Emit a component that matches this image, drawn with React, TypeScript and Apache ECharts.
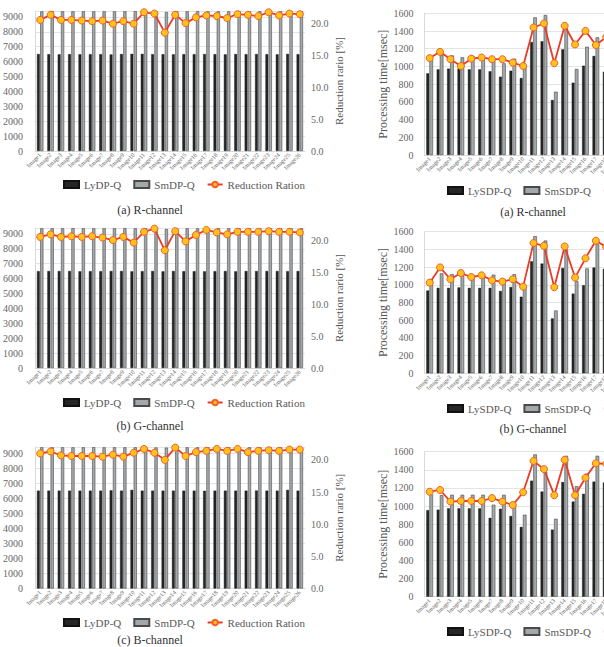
import React, { useEffect, useRef } from "react";
import * as echarts from "echarts";

const images = [
  "Image1", "Image2", "Image3", "Image4", "Image5", "Image6", "Image7", "Image8", "Image9", "Image10",
  "Image11", "Image12", "Image13", "Image14", "Image15", "Image16", "Image17", "Image18", "Image19", "Image20",
  "Image21", "Image22", "Image23", "Image24", "Image25", "Image26",
];

// Left column: memory (LyDP-Q / SmDP-Q) and reduction ratio
const lyDpR = [6510, 6500, 6490, 6500, 6490, 6500, 6500, 6480, 6510, 6520, 6520, 6500, 6500, 6490, 6500, 6500, 6510, 6500, 6490, 6510, 6500, 6510, 6500, 6490, 6520, 6500];
const smDpR = [9380, 9390, 9380, 9380, 9380, 9380, 9380, 9380, 9380, 9390, 9390, 9380, 9330, 9380, 9380, 9390, 9380, 9380, 9380, 9390, 9380, 9380, 9390, 9380, 9380, 9380];
const ratioR = [20.6, 21.4, 20.6, 20.6, 20.5, 20.4, 20.5, 20.0, 20.4, 20.0, 21.8, 21.6, 18.6, 21.4, 20.1, 21.0, 21.3, 21.2, 20.9, 21.5, 21.4, 21.2, 21.8, 21.3, 21.6, 21.5];

const lyDpG = [6500, 6510, 6510, 6510, 6490, 6500, 6500, 6510, 6510, 6490, 6500, 6510, 6490, 6510, 6500, 6500, 6490, 6500, 6510, 6490, 6510, 6510, 6510, 6510, 6500, 6510];
const smDpG = [9380, 9380, 9380, 9390, 9380, 9380, 9380, 9380, 9390, 9380, 9380, 9390, 9330, 9380, 9380, 9380, 9390, 9380, 9380, 9380, 9380, 9380, 9380, 9380, 9380, 9380];
const ratioG = [20.6, 21.0, 20.6, 20.7, 20.6, 20.7, 20.5, 20.1, 20.6, 19.7, 21.4, 21.9, 18.5, 21.5, 19.9, 20.9, 21.7, 21.3, 21.0, 21.4, 21.4, 21.4, 21.5, 21.4, 21.4, 21.3];

const lyDpB = [6500, 6500, 6500, 6500, 6500, 6500, 6500, 6520, 6500, 6550, 6500, 6500, 6500, 6500, 6500, 6500, 6490, 6500, 6500, 6500, 6500, 6510, 6500, 6500, 6550, 6500];
const smDpB = [9380, 9380, 9380, 9380, 9380, 9390, 9380, 9380, 9380, 9380, 9380, 9370, 9360, 9390, 9380, 9380, 9380, 9380, 9380, 9380, 9380, 9380, 9380, 9380, 9380, 9380];
const ratioB = [21.0, 21.3, 20.7, 20.6, 20.6, 20.6, 20.5, 20.8, 20.5, 21.1, 21.7, 21.1, 20.0, 21.9, 20.6, 21.2, 21.4, 21.7, 21.4, 21.7, 21.2, 21.4, 21.5, 21.4, 21.6, 21.6];

// Right column: processing time (LySDP-Q / SmSDP-Q) and reduction ratio
const lySdpR = [922, 967, 975, 975, 967, 967, 945, 884, 952, 869, 1276, 1284, 621, 1193, 816, 1008, 1118, 940, 1000, 950, 1180, 960, 990, 1150, 980, 1010];
const smSdpR = [1080, 1130, 1125, 1103, 1118, 1118, 1073, 1035, 1088, 997, 1554, 1581, 715, 1430, 971, 1223, 1329, 1092, 1150, 1120, 1450, 1130, 1160, 1400, 1140, 1180];
const ratioSR = [17.1, 18.2, 16.9, 15.7, 17.0, 17.2, 16.9, 16.9, 16.3, 15.7, 22.5, 23.2, 16.2, 22.8, 19.5, 21.9, 19.4, 20.8, 21.0, 20.6, 22.0, 20.4, 21.2, 22.3, 20.7, 21.1];

const lySdpG = [935, 965, 965, 970, 965, 965, 965, 930, 975, 865, 1265, 1240, 620, 1190, 900, 995, 1195, 1180, 960, 980, 1200, 950, 990, 1170, 970, 1000];
const smSdpG = [1065, 1130, 1120, 1120, 1115, 1110, 1115, 1065, 1120, 990, 1550, 1500, 710, 1400, 1040, 1185, 1460, 1440, 1120, 1130, 1470, 1110, 1160, 1420, 1130, 1170];
const ratioSG = [16.0, 18.7, 16.6, 17.7, 17.0, 17.3, 16.4, 16.2, 16.6, 15.3, 23.0, 22.5, 15.2, 22.4, 16.9, 20.3, 23.4, 22.3, 20.8, 21.0, 22.4, 20.5, 21.1, 22.6, 20.9, 21.2];

const lySdpB = [955, 960, 975, 975, 975, 975, 870, 970, 890, 770, 1280, 1160, 740, 1265, 1050, 1135, 1270, 1260, 970, 990, 1210, 960, 1000, 1180, 980, 1010];
const smSdpB = [1130, 1120, 1125, 1125, 1125, 1125, 1015, 1125, 1030, 905, 1570, 1380, 860, 1555, 1220, 1360, 1555, 1540, 1130, 1150, 1480, 1120, 1170, 1430, 1140, 1180];
const ratioSB = [18.1, 18.4, 16.4, 16.5, 16.5, 16.5, 17.0, 16.4, 15.8, 18.0, 23.4, 22.0, 17.5, 23.6, 17.5, 20.5, 23.0, 22.9, 20.9, 21.1, 22.5, 20.6, 21.2, 22.7, 20.8, 21.3];

const leftCaptions = ["(a) R-channel", "(b) G-channel", "(c) B-channel"];
const rightCaptions = ["(a) R-channel", "(b) G-channel"];

const serif = "Liberation Serif";

export default function App() {
  const ref = useRef<HTMLDivElement>(null);

  useEffect(() => {
    document.body.style.margin = "0";
    if (!ref.current) return;
    const chart = echarts.init(ref.current, null, { renderer: "svg" });

    const leftPanels = [
      { top: 11, height: 140, ly: lyDpR, sm: smDpR, ratio: ratioR, legendTop: 179, capY: 210 },
      { top: 228, height: 140, ly: lyDpG, sm: smDpG, ratio: ratioG, legendTop: 397, capY: 426 },
      { top: 447, height: 141.5, ly: lyDpB, sm: smDpB, ratio: ratioB, legendTop: 617, capY: 640 },
    ];
    const rightPanels = [
      { top: 13.3, height: 141.7, ly: lySdpR, sm: smSdpR, ratio: ratioSR, legendTop: 185, capY: 212 },
      { top: 231.7, height: 141.6, ly: lySdpG, sm: smSdpG, ratio: ratioSG, legendTop: 403, capY: 429 },
      { top: 451.7, height: 145, ly: lySdpB, sm: smSdpB, ratio: ratioSB, legendTop: 626, capY: 0 },
    ];

    const grid: any[] = [];
    const xAxis: any[] = [];
    const yAxis: any[] = [];
    const series: any[] = [];
    const legend: any[] = [];
    const graphic: any[] = [];

    const catAxis = (g: number) => ({
      type: "category",
      gridIndex: g,
      data: images,
      axisTick: { show: false },
      axisLine: { lineStyle: { color: "#d9d9d9" } },
      axisLabel: { rotate: 45, interval: 0, fontSize: 6, color: "#666", fontFamily: serif, margin: 3 },
    });

    const lineSeries = (g: number, yi: number, data: number[]) => ({
      type: "line",
      name: "Reduction Ration",
      xAxisIndex: g,
      yAxisIndex: yi,
      data,
      symbol: "circle",
      symbolSize: 7,
      z: 5,
      lineStyle: { color: "#ea3b26", width: 1.8 },
      itemStyle: { color: "#ffc21a", borderColor: "#f0602a", borderWidth: 1 },
    });

    const legendBase = {
      padding: 0,
      itemWidth: 15,
      itemHeight: 7,
      itemGap: 12,
      selectedMode: false,
      width: 400,
      textStyle: { fontSize: 11, fontFamily: serif, color: "#595959" },
    };

    const caption = (x: number, y: number, text: string) => ({
      type: "text",
      x,
      y,
      style: {
        text,
        textAlign: "center",
        textVerticalAlign: "middle",
        fontSize: 12,
        fontFamily: serif,
        fill: "#333",
      },
    });

    leftPanels.forEach((p, i) => {
      const g = grid.length;
      grid.push({ left: 35, top: p.top, width: 270, height: p.height });
      xAxis.push(catAxis(g));
      const yl = yAxis.length;
      yAxis.push({
        type: "value",
        gridIndex: g,
        min: 0,
        max: 9400,
        interval: 1000,
        axisLine: { show: true, lineStyle: { color: "#d9d9d9" } },
        axisTick: { show: false },
        splitLine: { lineStyle: { color: "#e4e4e4" } },
        axisLabel: {
          showMaxLabel: false,
          fontSize: 10,
          color: "#666",
          fontFamily: serif,
          margin: 12,
          formatter: (v: number) => String(v),
        },
      });
      yAxis.push({
        type: "value",
        gridIndex: g,
        position: "right",
        min: 0,
        max: 22,
        interval: 5,
        axisLine: { show: false },
        axisTick: { show: false },
        splitLine: { show: false },
        axisLabel: {
          showMaxLabel: false,
          fontSize: 10,
          color: "#666",
          fontFamily: serif,
          margin: 6,
          formatter: (v: number) => v.toFixed(1),
        },
        name: "Reduction rario [%]",
        nameLocation: "middle",
        nameGap: 28,
        nameRotate: 90,
        nameTextStyle: { fontSize: 11, fontFamily: serif, color: "#555" },
      });
      series.push({
        type: "bar",
        name: "LyDP-Q",
        xAxisIndex: g,
        yAxisIndex: yl,
        data: p.ly,
        barWidth: 2.8,
        itemStyle: { color: "#262626", borderColor: "#111", borderWidth: 0.4 },
      });
      series.push({
        type: "bar",
        name: "SmDP-Q",
        xAxisIndex: g,
        yAxisIndex: yl,
        data: p.sm,
        barWidth: 3.2,
        barGap: "15%",
        itemStyle: { color: "#a3a8ab", borderColor: "#4a4a4a", borderWidth: 0.6 },
      });
      series.push(lineSeries(g, yl + 1, p.ratio));
      legend.push({
        ...legendBase,
        left: 63,
        top: p.legendTop,
        data: [
          { name: "LyDP-Q", icon: "rect" },
          { name: "SmDP-Q", icon: "rect" },
          { name: "Reduction Ration" },
        ],
      });
      graphic.push(caption(150, p.capY, leftCaptions[i]));
    });

    rightPanels.forEach((p, i) => {
      const g = grid.length;
      grid.push({ left: 424.5, top: p.top, width: 270, height: p.height });
      xAxis.push(catAxis(g));
      const yl = yAxis.length;
      yAxis.push({
        type: "value",
        gridIndex: g,
        min: 0,
        max: 1600,
        interval: 200,
        axisLine: { show: true, lineStyle: { color: "#d9d9d9" } },
        axisTick: { show: false },
        splitLine: { lineStyle: { color: "#e4e4e4" } },
        axisLabel: {
          fontSize: 10,
          color: "#666",
          fontFamily: serif,
          margin: 11,
          formatter: (v: number) => String(v),
        },
        name: "Processing time[msec]",
        nameLocation: "middle",
        nameGap: 36,
        nameRotate: 90,
        nameTextStyle: { fontSize: 12, fontFamily: serif, color: "#555" },
      });
      yAxis.push({
        type: "value",
        gridIndex: g,
        position: "right",
        min: 0,
        max: 25,
        interval: 5,
        show: false,
      });
      series.push({
        type: "bar",
        name: "LySDP-Q",
        xAxisIndex: g,
        yAxisIndex: yl,
        data: p.ly,
        barWidth: 2.8,
        itemStyle: { color: "#262626", borderColor: "#111", borderWidth: 0.4 },
      });
      series.push({
        type: "bar",
        name: "SmSDP-Q",
        xAxisIndex: g,
        yAxisIndex: yl,
        data: p.sm,
        barWidth: 3.6,
        barGap: "10%",
        itemStyle: { color: "#a3a8ab", borderColor: "#4a4a4a", borderWidth: 0.6 },
      });
      series.push(lineSeries(g, yl + 1, p.ratio));
      legend.push({
        ...legendBase,
        left: 447,
        top: p.legendTop,
        data: [
          { name: "LySDP-Q", icon: "rect" },
          { name: "SmSDP-Q", icon: "rect" },
          { name: "Reduction Ration" },
        ],
      });
      if (rightCaptions[i]) graphic.push(caption(533, p.capY, rightCaptions[i]));
    });

    chart.setOption({
      animation: false,
      backgroundColor: "#ffffff",
      grid,
      xAxis,
      yAxis,
      series,
      legend,
      graphic,
    });

    return () => chart.dispose();
  }, []);

  return (
    <div style={{ width: 604, height: 647, overflow: "hidden", position: "relative", background: "#fff" }}>
      <div ref={ref} style={{ width: 760, height: 647 }} />
    </div>
  );
}
